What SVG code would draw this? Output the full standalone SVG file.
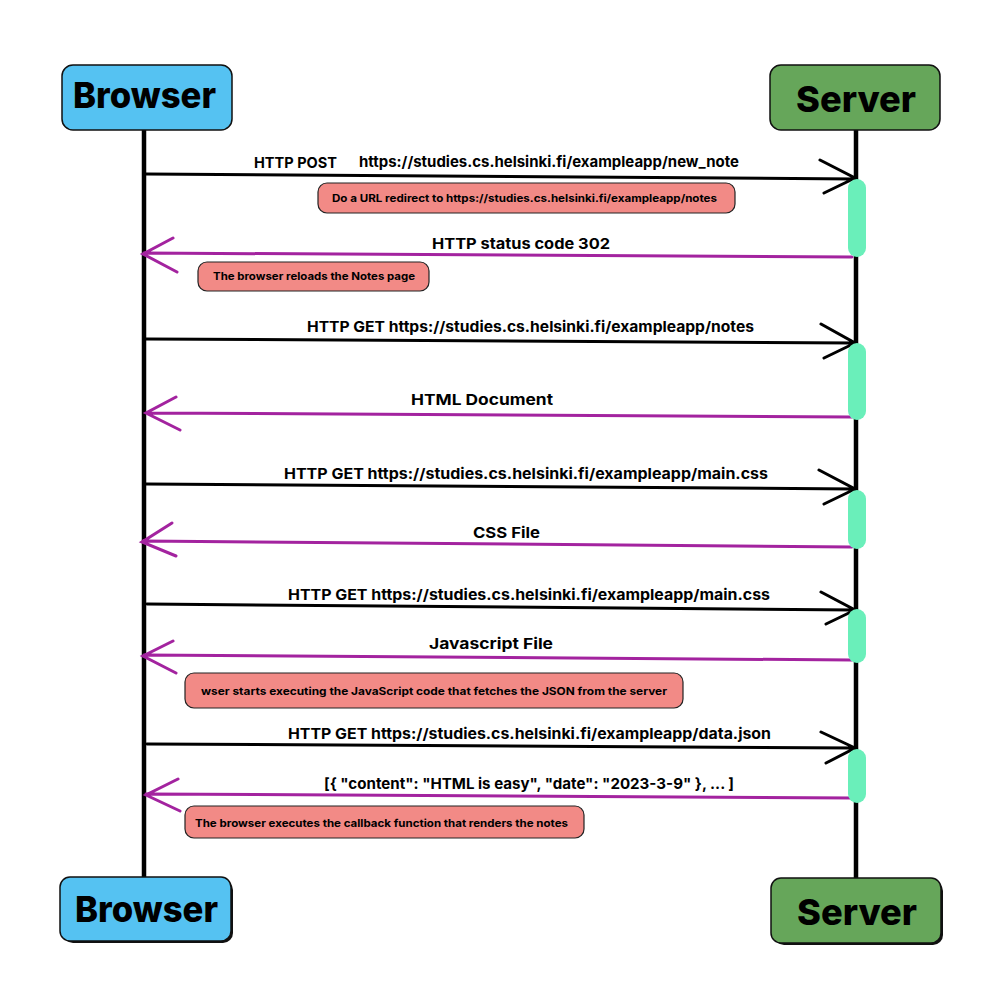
<svg xmlns="http://www.w3.org/2000/svg" width="1000" height="1000" viewBox="0 0 1000 1000">
<style>
.actor{stroke:#111;stroke-width:1.5}
.br{fill:#55c2f2}
.sv{fill:#66a65a}
.at{font-family:"Inter","Liberation Sans",sans-serif;font-weight:800;font-size:36px;fill:#000}
.life{stroke:#000;stroke-width:4.5;fill:none}
.req{stroke:#000;stroke-width:3;fill:none;stroke-linecap:round}
.res{stroke:#a3239f;stroke-width:3;fill:none;stroke-linecap:round}
.act{fill:#6aefba}
.lbl{font-family:"Inter","Liberation Sans",sans-serif;font-weight:700;font-size:15px;fill:#000}
.note{fill:#f28a86;stroke:#222;stroke-width:1.2}
.nt{font-family:"Inter","Liberation Sans",sans-serif;font-weight:700;font-size:10.5px;fill:#000}
</style>
<rect width="1000" height="1000" fill="#fff"/>
<g id="lifelines">
<line class="life" x1="144" y1="130" x2="144" y2="877"/>
<line class="life" x1="856" y1="130" x2="856" y2="878"/>
</g>
<g id="browser-top">
<rect class="actor br" x="62" y="65" width="170" height="65" rx="11"/>
<text class="at" x="73" y="108" textLength="143" lengthAdjust="spacingAndGlyphs">Browser</text>
</g>
<g id="server-top">
<rect class="actor sv" x="770" y="65" width="170" height="65" rx="11"/>
<text class="at" x="796" y="112" textLength="120" lengthAdjust="spacingAndGlyphs">Server</text>
</g>
<g id="browser-bottom">
<rect x="63" y="880" width="170" height="63" rx="10" fill="#111"/>
<rect class="actor br" x="60" y="877" width="171" height="64" rx="10"/>
<text class="at" x="75" y="922" textLength="143" lengthAdjust="spacingAndGlyphs">Browser</text>
</g>
<g id="server-bottom">
<rect x="774" y="881" width="169" height="64" rx="10" fill="#111"/>
<rect class="actor sv" x="771" y="878" width="170" height="65" rx="10"/>
<text class="at" x="797" y="925" textLength="120" lengthAdjust="spacingAndGlyphs">Server</text>
</g>
<g id="connectors">
<path class="req" d="M146 174 L855 179 M820 160 L855 178 L824 193"/>
<path class="res" d="M852 257 L144 253 M173 238 L143 254 L177 272"/>
<path class="req" d="M146 339 L855 343 M821 324 L855 343 L824 358"/>
<path class="res" d="M852 417 L146 413 M176 397 L146 413 L180 430"/>
<path class="req" d="M146 484 L855 489 M819 470 L855 489 L824 504"/>
<path class="res" d="M852 547 L143 541 M172 523 L142 542 L176 556"/>
<path class="req" d="M147 604 L855 610 M821 592 L855 610 L826 624"/>
<path class="res" d="M852 660 L144 655 M173 641 L143 656 L176 673"/>
<path class="req" d="M147 744 L855 748 M821 732 L855 748 L826 763"/>
<path class="res" d="M852 798 L146 794 M178 779 L146 795 L180 811"/>
</g>
<g id="activations">
<rect class="act" x="848" y="179" width="18" height="78" rx="9"/>
<rect class="act" x="848" y="343" width="18" height="77" rx="9"/>
<rect class="act" x="848" y="490" width="18" height="59" rx="9"/>
<rect class="act" x="848" y="609" width="18" height="54" rx="9"/>
<rect class="act" x="848" y="749" width="18" height="54" rx="9"/>
</g>
<g id="labels">
<text class="lbl" x="254" y="168" textLength="83" lengthAdjust="spacingAndGlyphs">HTTP POST</text>
<text class="lbl" x="359" y="167" textLength="380" lengthAdjust="spacingAndGlyphs">https://studies.cs.helsinki.fi/exampleapp/new_note</text>
<text class="lbl" x="432" y="249" textLength="178" lengthAdjust="spacingAndGlyphs" font-size="16">HTTP status code 302</text>
<text class="lbl" x="307" y="332" textLength="447" lengthAdjust="spacingAndGlyphs">HTTP GET https://studies.cs.helsinki.fi/exampleapp/notes</text>
<text class="lbl" x="411" y="405" textLength="142" lengthAdjust="spacingAndGlyphs" font-size="16">HTML Document</text>
<text class="lbl" x="284" y="479" textLength="484" lengthAdjust="spacingAndGlyphs">HTTP GET https://studies.cs.helsinki.fi/exampleapp/main.css</text>
<text class="lbl" x="473" y="538" textLength="67" lengthAdjust="spacingAndGlyphs" font-size="16">CSS File</text>
<text class="lbl" x="288" y="600" textLength="482" lengthAdjust="spacingAndGlyphs">HTTP GET https://studies.cs.helsinki.fi/exampleapp/main.css</text>
<text class="lbl" x="429" y="649" textLength="124" lengthAdjust="spacingAndGlyphs" font-size="16">Javascript File</text>
<text class="lbl" x="288" y="739" textLength="483" lengthAdjust="spacingAndGlyphs">HTTP GET https://studies.cs.helsinki.fi/exampleapp/data.json</text>
<text class="lbl" x="324" y="789" textLength="410" lengthAdjust="spacingAndGlyphs" font-size="16">[{ "content": "HTML is easy", "date": "2023-3-9" }, ... ]</text>
</g>
<g id="note-redirect">
<rect class="note" x="318" y="183" width="417" height="30" rx="9"/>
<text class="nt" x="332" y="202" textLength="385" lengthAdjust="spacingAndGlyphs">Do a URL redirect to https://studies.cs.helsinki.fi/exampleapp/notes</text>
</g>
<g id="note-reload">
<rect class="note" x="198" y="262" width="231" height="29" rx="9"/>
<text class="nt" x="213" y="280" textLength="202" lengthAdjust="spacingAndGlyphs">The browser reloads the Notes page</text>
</g>
<g id="note-js">
<rect class="note" x="185" y="673" width="498" height="35" rx="9"/>
<text class="nt" x="201" y="695" textLength="466" lengthAdjust="spacingAndGlyphs">wser starts executing the JavaScript code that fetches the JSON from the server</text>
</g>
<g id="note-callback">
<rect class="note" x="185" y="806" width="399" height="32" rx="9"/>
<text class="nt" x="195" y="827" textLength="373" lengthAdjust="spacingAndGlyphs">The browser executes the callback function that renders the notes</text>
</g>
</svg>
